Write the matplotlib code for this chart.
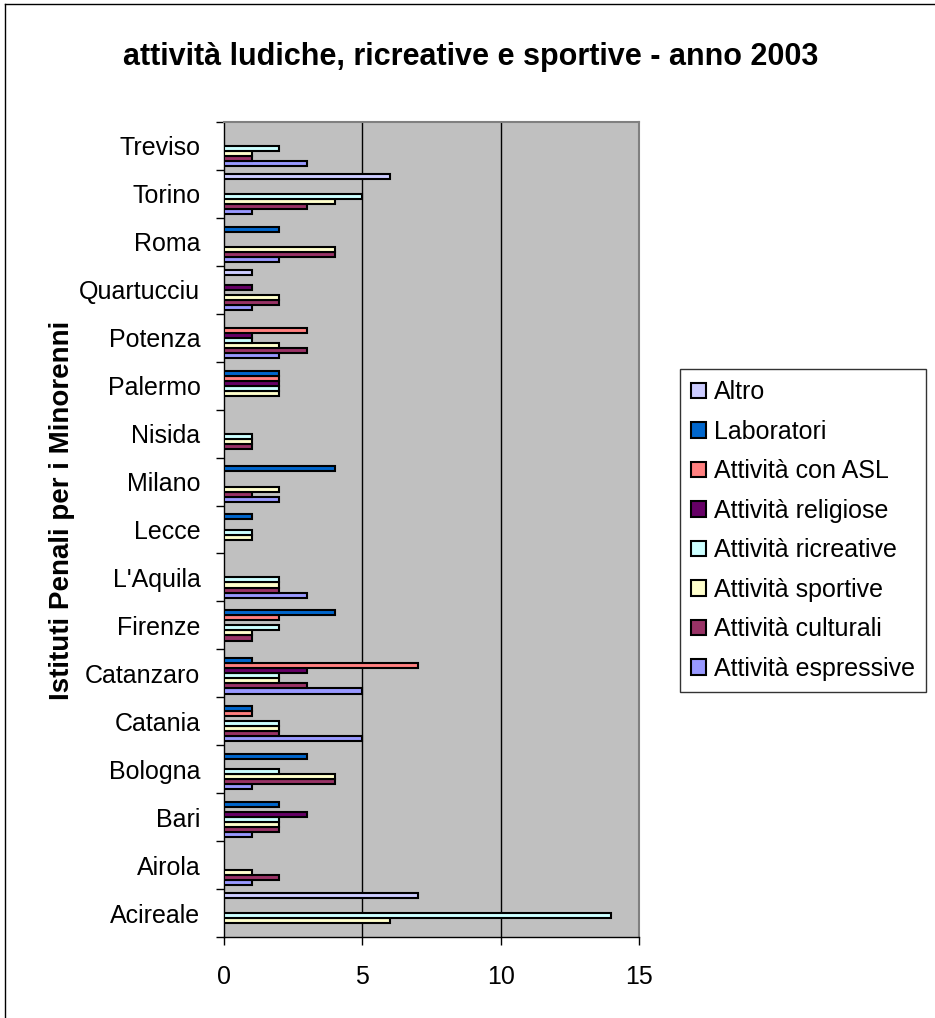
import matplotlib
matplotlib.use('Agg')
import matplotlib.pyplot as plt
import numpy as np

plt.rcParams['font.family'] = ['Liberation Sans', 'DejaVu Sans']

# istituti, dal basso verso l'alto
istituti = ['Acireale', 'Airola', 'Bari', 'Bologna', 'Catania', 'Catanzaro',
            'Firenze', "L'Aquila", 'Lecce', 'Milano', 'Nisida', 'Palermo',
            'Potenza', 'Quartucciu', 'Roma', 'Torino', 'Treviso']

# valori (stesso ordine degli istituti)
espressive = [0, 1, 1, 1, 5, 5, 0, 3, 0, 2, 0, 0, 2, 1, 2, 1, 3]
culturali = [0, 2, 2, 4, 2, 3, 1, 2, 0, 1, 1, 0, 3, 2, 4, 3, 1]
sportive = [6, 1, 2, 4, 2, 2, 1, 2, 1, 2, 1, 2, 2, 2, 4, 4, 1]
ricreative = [14, 0, 2, 2, 2, 2, 2, 2, 1, 0, 1, 2, 1, 0, 0, 5, 2]
religiose = [0, 0, 3, 0, 0, 3, 0, 0, 0, 0, 0, 2, 1, 1, 0, 0, 0]
con_asl = [0, 0, 0, 0, 1, 7, 2, 0, 0, 0, 0, 2, 3, 0, 0, 0, 0]
laboratori = [0, 0, 2, 3, 1, 1, 4, 0, 1, 4, 0, 2, 0, 0, 2, 0, 0]
altro = [7, 0, 0, 0, 0, 0, 0, 0, 0, 0, 0, 0, 0, 1, 0, 6, 0]

serie = ['Attività espressive', 'Attività culturali', 'Attività sportive',
         'Attività ricreative', 'Attività religiose', 'Attività con ASL',
         'Laboratori', 'Altro']
valori = [espressive, culturali, sportive, ricreative, religiose, con_asl,
          laboratori, altro]
colori = ['#9999FF', '#993366', '#FFFFCC', '#CCFFFF', '#660066', '#FF8080',
          '#0066CC', '#CCCCFF']

W, H = 935, 1018
fig = plt.figure(figsize=(W / 100, H / 100), dpi=100)
ax = fig.add_axes([224 / W, 1 - 937 / H, (639 - 224) / W, (937 - 122) / H])
ax.set_facecolor('#C0C0C0')

y = np.arange(len(istituti))
h = 1 / 9.5
for i, (nome, vals, col) in enumerate(zip(serie, valori, colori)):
    vals = np.array(vals)
    pos = y + (i - 3.5) * h
    m = vals > 0
    ax.barh(pos[m], vals[m], height=h, color=col, edgecolor='black',
            linewidth=1.5, label=nome, zorder=3)

for xv in [5, 10]:
    ax.axvline(xv, color='black', linewidth=1, zorder=1)

ax.set_xlim(0, 15)
ax.set_ylim(-0.5, len(istituti) - 0.5)
ax.set_xticks([0, 5, 10, 15])
ax.set_yticks(y)
ax.set_yticklabels(istituti)
ax.set_yticks(np.arange(-0.5, len(istituti), 1), minor=True)
ax.tick_params(axis='y', which='major', length=0, pad=17, labelsize=18)
ax.tick_params(axis='y', which='minor', length=6, width=1, direction='out')
ax.tick_params(axis='x', length=6, width=1, pad=14, labelsize=18)

for s in ['left', 'bottom']:
    ax.spines[s].set_color('black')
    ax.spines[s].set_linewidth(1)
for s in ['top', 'right']:
    ax.spines[s].set_color('#808080')
    ax.spines[s].set_linewidth(1.5)

fig.text(471 / W, 1 - 57 / H, 'attività ludiche, ricreative e sportive - anno 2003',
         fontsize=22, fontweight='bold', ha='center', va='center')
fig.text(62 / W, 1 - 510 / H, 'Istituti Penali per i Minorenni', rotation=90,
         fontsize=20, fontweight='bold', ha='center', va='center')

hnd, lab = ax.get_legend_handles_labels()
leg = fig.legend(hnd[::-1], lab[::-1], loc='upper left',
                 bbox_to_anchor=(680 / W, 1 - 369 / H), borderaxespad=0,
                 fontsize=18, frameon=True, fancybox=False, edgecolor='black',
                 handlelength=0.6, handleheight=0.6, handletextpad=0.3,
                 labelspacing=0.62, borderpad=0.45)
leg.get_frame().set_linewidth(1)

# cornice esterna
fig.add_artist(plt.Line2D([5 / W, 5 / W], [0, 1 - 4 / H], transform=fig.transFigure,
                          color='black', linewidth=1))
fig.add_artist(plt.Line2D([5 / W, 1], [1 - 4 / H, 1 - 4 / H], transform=fig.transFigure,
                          color='black', linewidth=1))

fig.savefig('out.png', dpi=100)
